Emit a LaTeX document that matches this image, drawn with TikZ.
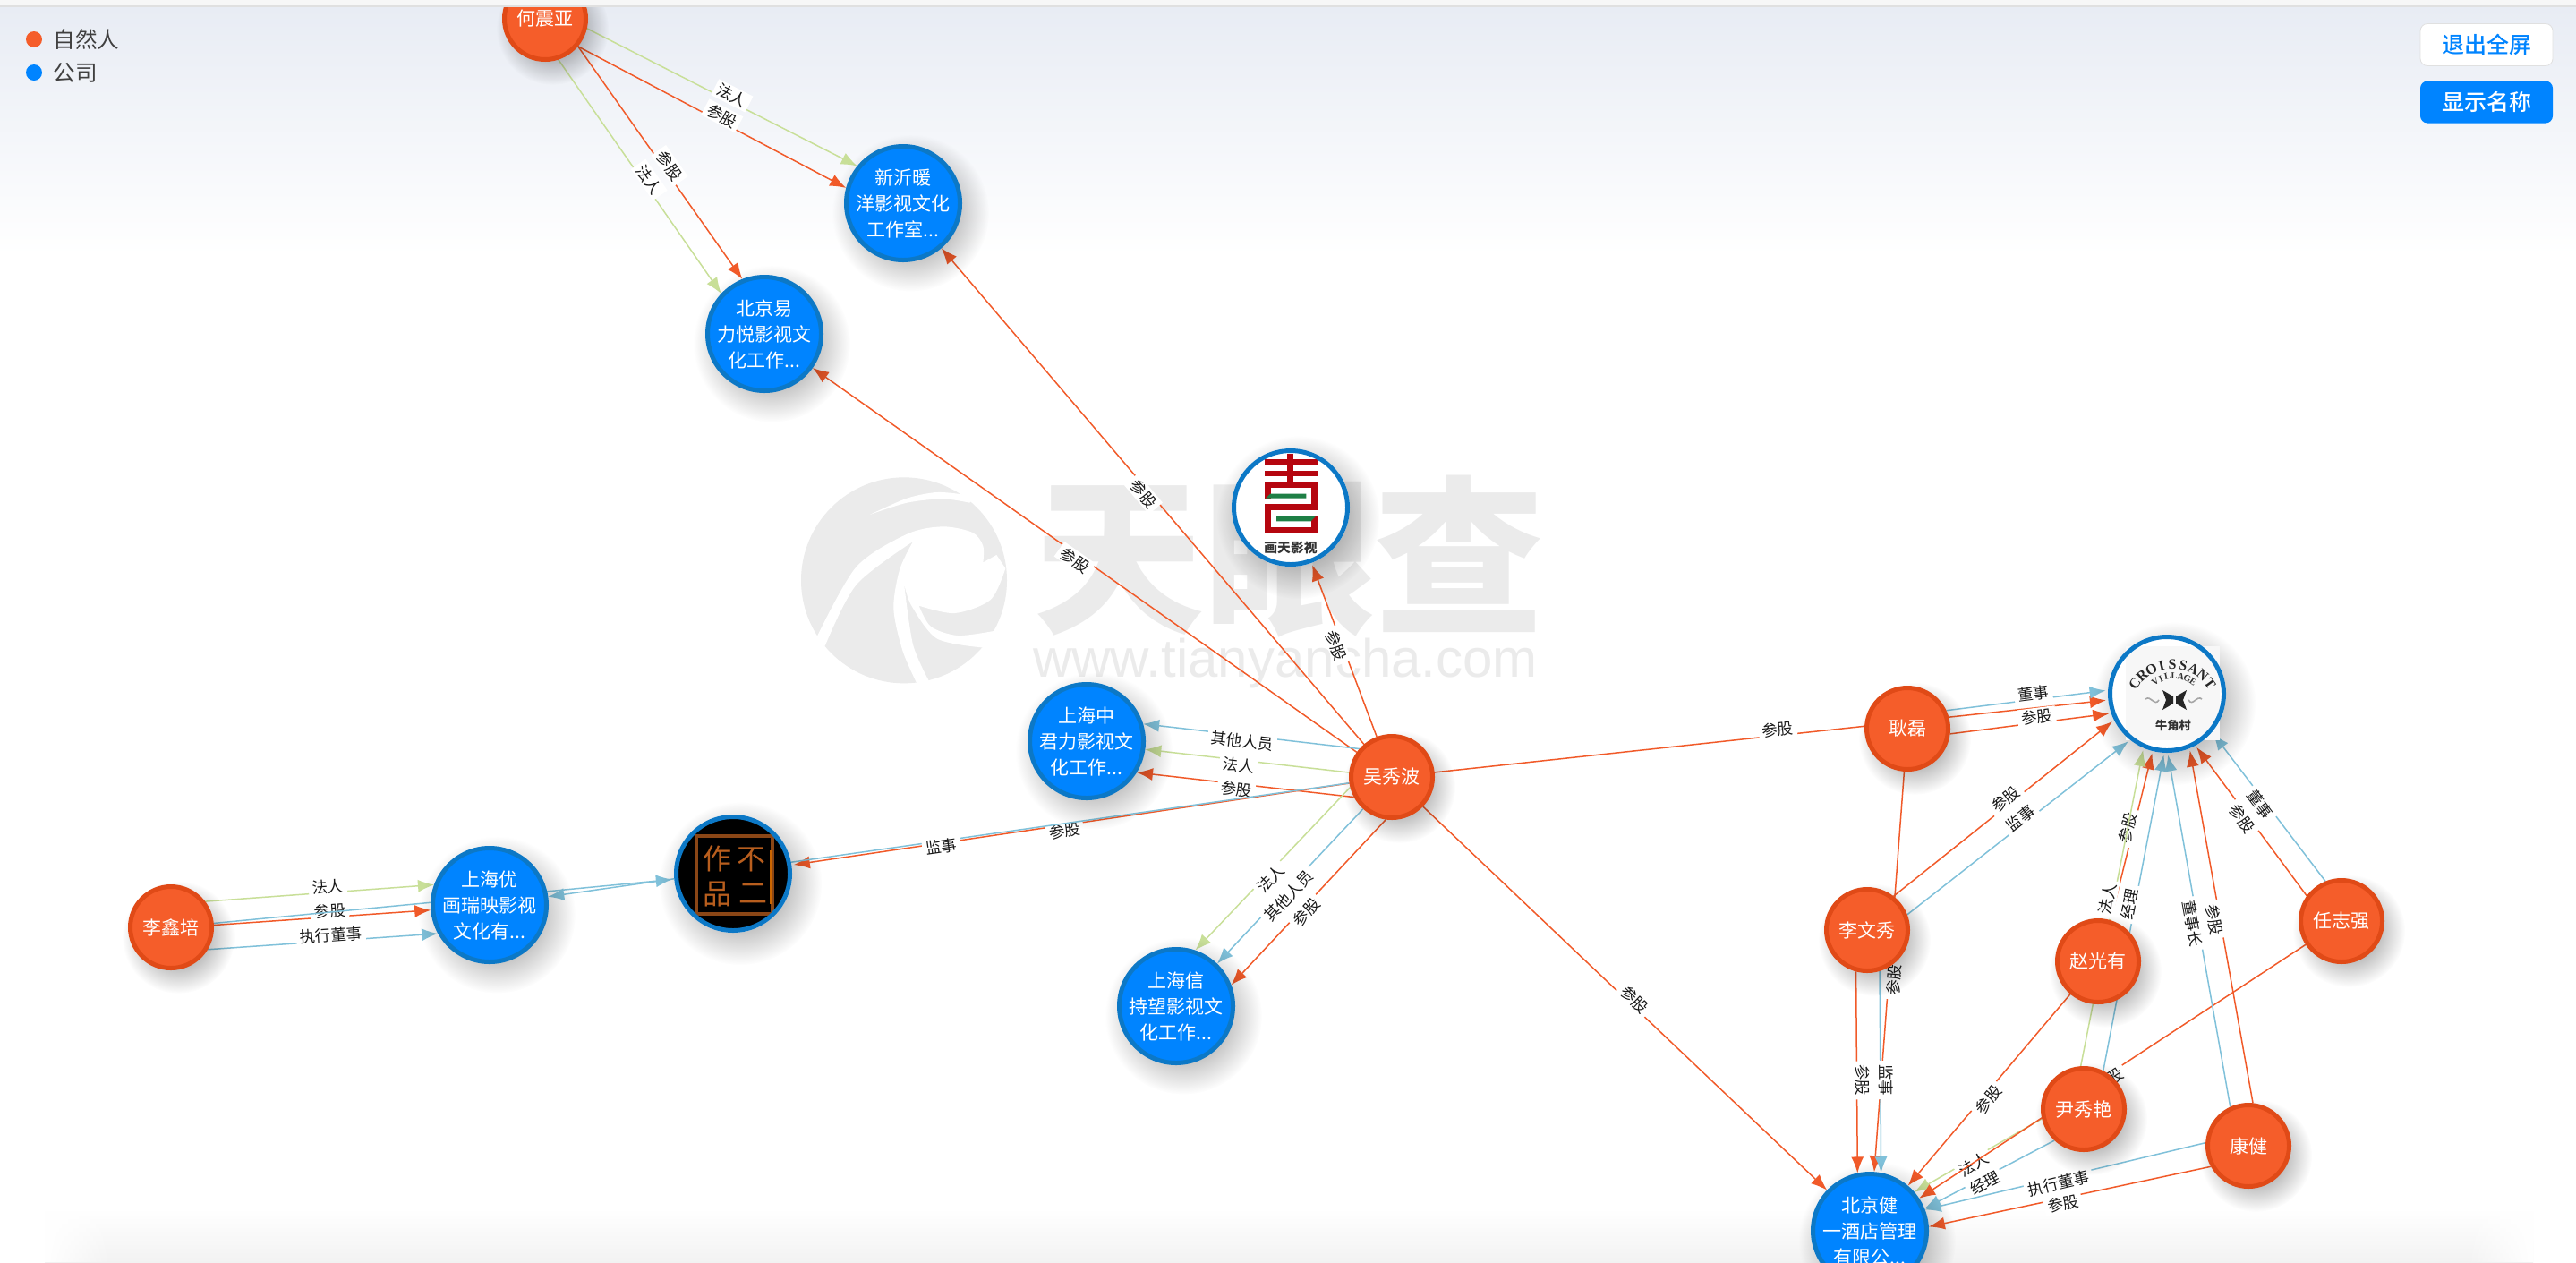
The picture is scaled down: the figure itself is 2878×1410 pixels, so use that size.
\documentclass[tikz,border=0pt]{standalone}
\usepackage{fontspec}
\setmainfont{Noto Sans CJK SC}
\newfontfamily\cjkmedium{Noto Sans CJK SC}[UprightFont=* Medium]
\newfontfamily\latinfont{Liberation Sans}
\newfontfamily\serifbold{Liberation Serif}
\usetikzlibrary{arrows.meta,shadows,fadings}

\definecolor{personfill}{HTML}{F55D2A}
\definecolor{personring}{HTML}{E04A17}
\definecolor{companyfill}{HTML}{0084FF}
\definecolor{companyring}{HTML}{0C78C6}
\definecolor{redline}{HTML}{F15A29}
\definecolor{blueline}{HTML}{80C1DA}
\definecolor{greenline}{HTML}{C8DF98}
\definecolor{marktone}{HTML}{EBEBEB}
\definecolor{bgtop}{HTML}{E8ECF4}
\definecolor{logored}{HTML}{B5060F}
\definecolor{logogreen}{HTML}{1E7F45}
\definecolor{rust}{HTML}{B85E1E}

\pgfdeclarelayer{bg}
\pgfdeclarelayer{edges}
\pgfdeclarelayer{top}
\pgfsetlayers{bg,edges,main,top}

\pgfdeclareradialshading{softshade}{\pgfpointorigin}{color(0bp)=(pgftransparent!0); color(13bp)=(pgftransparent!0); color(25bp)=(pgftransparent!100); color(50bp)=(pgftransparent!100)}
\pgfdeclarefading{softfade}{\pgfuseshading{softshade}}

\tikzset{
  softshadow/.style={circular drop shadow={shadow xshift=3pt,shadow yshift=-4pt,shadow scale=1.38,fill=black,opacity=.26,path fading=softfade}},
  person/.style={circle,draw=personring,fill=personfill,line width=2.5pt,minimum size=45.5pt,inner sep=-5pt,
    text=white,align=center,font=\fontsize{10.5}{14.5}\selectfont,softshadow},
  company/.style={person,draw=companyring,fill=companyfill,minimum size=63.5pt},
  logobase/.style={company,fill=white,draw=none,minimum size=66pt},
  ring/.style={draw=companyring,line width=2.5pt},
  link/.style={line width=.75pt,-{Latex[length=9pt,width=7pt]}},
  redlink/.style={link,draw=redline},
  bluelink/.style={link,draw=blueline},
  greenlink/.style={link,draw=greenline},
  lab/.style={fill=white,inner xsep=2pt,inner ysep=1pt,sloped,anchor=base,text=black!90,
    font=\fontsize{8.7}{9}\selectfont},
  labr/.style={lab,anchor=north,outer ysep=-1.9pt},
}

\begin{document}
\begin{tikzpicture}[x=.5pt,y=-.5pt]
\useasboundingbox (0,0) rectangle (2878,1410);

% Fond et filigrane
\begin{pgfonlayer}{bg}
\fill[white] (0,0) rectangle (2878,1410);
\shade[top color=bgtop,bottom color=white] (0,8) rectangle (2878,285);
\shade[top color=white,bottom color=black!5] (50,1350) rectangle (2830,1410);
\fill[white,path fading=east] (50,1350) rectangle (125,1410);
\fill[white,path fading=west] (2755,1350) rectangle (2830,1410);
\begin{scope}[shift={(880,520)},x=.16667pt,y=-.16667pt]
\fill[marktone] (390,385) circle[radius=57.5pt];
\fill[white] plot[smooth] coordinates {(100,570) (230,340) (400,230) (520,205) (620,225) (655,270) (655,325)}
  -- (700,300) -- (730,345)
  -- plot[smooth] coordinates {(730,345) (680,450) (560,495) (440,470)}
  -- plot[smooth] coordinates {(440,470) (480,540) (570,570) (690,555)}
  -- (700,600) -- (650,610)
  -- plot[smooth] coordinates {(650,610) (500,580) (415,470) (390,395)}
  -- plot[smooth] coordinates {(390,395) (420,600) (475,725)}
  -- (460,750) -- (435,735)
  -- plot[smooth] coordinates {(435,735) (385,620) (355,480) (375,350) (420,255)}
  -- plot[smooth] coordinates {(420,255) (230,400) (125,605)}
  -- (90,600) -- cycle;
\fill[white] plot[smooth] coordinates {(275,165) (400,110) (500,90) (585,97)}
  -- (640,90) -- (610,125)
  -- plot[smooth] coordinates {(610,125) (520,112) (400,125) (275,165)} -- cycle;
\end{scope}
\node[text=marktone,font=\fontsize{95}{95}\selectfont\bfseries] (marktitle) at (1440,622) {天眼查};
\node[text=marktone,font=\latinfont\fontsize{30}{31}\selectfont] (markurl) at (1436,741) {www.tianyancha.com};
\end{pgfonlayer}

% Personnes
\node[person] (hezhenya) at (609,21) {何震亚};
\node[person] (wuxiubo) at (1555,868) {吴秀波};
\node[person] (lixinpei) at (191,1036) {李鑫培};
\node[person] (genglei) at (2131,814) {耿磊};
\node[person] (liwenxiu) at (2086,1039) {李文秀};
\node[person] (zhaoguangyou) at (2344,1074) {赵光有};
\node[person] (renzhiqiang) at (2616,1029) {任志强};
\node[person] (yinxiuyan) at (2328,1239) {尹秀艳};
\node[person] (kangjian) at (2512,1280) {康健};

% Societes
\node[company] (xinyinuan) at (1009,227) {新沂暖\\洋影视文化\\工作室...};
\node[company] (beijingyi) at (854,373) {北京易\\力悦影视文\\化工作...};
\node[company] (shzhong) at (1214,828) {上海中\\君力影视文\\化工作...};
\node[company] (shxin) at (1314,1124) {上海信\\持望影视文\\化工作...};
\node[company] (shyou) at (547,1011) {上海优\\画瑞映影视\\文化有...};
\node[company] (beijingjian) at (2089,1375) {北京健\\一酒店管理\\有限公...};
\node[logobase] (huatian) at (1442,567) {};
\node[logobase] (buer) at (819,976) {};
\node[logobase] (niujiao) at (2421,775) {};

% Logo rouge et vert
\begin{scope}
\clip (huatian.center) circle[radius=32pt];
\begin{scope}[shift={(1370,495)},x=.16667pt,y=-.16667pt]
\foreach \xa/\ya/\xb/\yb in {128/55/305/72,128/92/305/110,205/35/225/130,128/130/305/150,128/130/150/185,
    285/130/305/225,128/205/305/225,128/205/150/300,128/282/305/300,285/245/305/300}
  \fill[logored] (\xa,\ya) rectangle (\xb,\yb);
\fill[logogreen] (132,185) -- (148,170) -- (268,170) -- (268,185) -- cycle;
\fill[logogreen] (168,245) -- (300,245) -- (284,262) -- (168,262) -- cycle;
\end{scope}
\end{scope}
\node[text=black!80,font=\fontsize{7.4}{8}\selectfont\bfseries,inner sep=0pt] (huatianname) at (1442,612) {画天影视};
\draw[ring] (huatian.center) circle[radius=31.75pt];

% Logo noir
\fill[black] (buer.center) circle[radius=32pt];
\draw[rust!75!black,line width=2.2pt] (778,934) rectangle (863,1021);
\draw[orange!80!black,line width=.7pt] (861,950) -- (861,1010);
\node[text=rust,font=\fontsize{16}{17}\selectfont,inner sep=0pt] (buerzuo) at (801,959) {作};
\node[text=rust,font=\fontsize{16}{17}\selectfont,inner sep=0pt] (buerbu) at (839,960) {不};
\node[text=rust,font=\fontsize{16}{17}\selectfont,inner sep=0pt] (buerpin) at (801,999) {品};
\node[text=rust,font=\fontsize{16}{17}\selectfont,inner sep=0pt] (buerer) at (841,998) {二};
\draw[ring] (buer.center) circle[radius=31.75pt];

% Logo blanc
\fill[black!3] (2375,722) rectangle (2480,827);
\foreach \c [count=\i] in {C,R,O,I,S,S,A,N,T}
  \node[rotate={(5-\i)*13.5},text=black!85,inner sep=0pt,font=\serifbold\fontsize{8}{9}\selectfont\bfseries]
    (lettera\i) at ([shift={({90+(5-\i)*13.5}:26pt)}]2427,794) {\c};
\foreach \c [count=\i] in {V,I,L,L,A,G,E}
  \node[rotate={(4-\i)*12},text=black!80,inner sep=0pt,font=\serifbold\fontsize{5.2}{6}\selectfont\bfseries]
    (letterb\i) at ([shift={({90+(4-\i)*12}:18pt)}]2429,791) {\c};
\fill[black!85] (2416,771) -- (2428,778) -- (2428,786) -- (2416,793) -- (2420,782) -- cycle;
\fill[black!85] (2443,771) -- (2431,778) -- (2431,786) -- (2443,793) -- (2439,782) -- cycle;
\draw[black!35,line width=.8pt] (2397,781) .. controls (2403,776) and (2407,790) .. (2412,782);
\draw[black!35,line width=.8pt] (2460,781) .. controls (2454,776) and (2450,790) .. (2445,782);
\node[text=black!80,font=\fontsize{6.6}{7}\selectfont\bfseries,inner sep=0pt] (niujiaoname) at (2428,810) {牛角村};
\draw[ring] (niujiao.center) circle[radius=31.75pt];

% Liens
\begin{pgfonlayer}{edges}
\draw[greenlink] (hezhenya.-13) -- node[lab,pos=.527] (l1) {法人} (xinyinuan.141);
\draw[redlink] (hezhenya.-40) -- node[lab,pos=.527] (l2) {参股} (xinyinuan.165);
\draw[greenlink] (hezhenya.-72) -- node[lab,pos=.528] (l3) {法人} (beijingyi.137);
\draw[redlink] (hezhenya.-40) -- node[lab,pos=.528] (l4) {参股} (beijingyi.112);
\draw[redlink] (wuxiubo) -- node[labr,pos=.512] (l5) {参股} (xinyinuan);
\draw[redlink] (wuxiubo) -- node[labr,pos=.512] (l6) {参股} (beijingyi);
\draw[redlink] (wuxiubo) -- node[labr,pos=.543] (l7) {参股} (huatian);
\draw[bluelink] (wuxiubo.139) -- node[labr,pos=.539] (l8) {其他人员} (shzhong.17);
\draw[greenlink] (wuxiubo.174) -- node[labr,pos=.539] (l9) {法人} (shzhong.-8);
\draw[redlink] (wuxiubo.208) -- node[labr,pos=.539] (l10) {参股} (shzhong.-32);
\draw[greenlink] (wuxiubo.194) -- node[labr,pos=.538] (l11) {法人} (shxin.71);
\draw[bluelink] (wuxiubo.228) -- node[labr,pos=.538] (l12) {其他人员} (shxin.46);
\draw[redlink] (wuxiubo.262) -- node[labr,pos=.538] (l13) {参股} (shxin.21);
\draw[redlink] (wuxiubo) -- node[labr,pos=.514] (l14) {参股} (buer);
\draw[bluelink] (wuxiubo) -- node[labr,pos=.51] (l15) {监事} (shyou);
\draw[redlink] (wuxiubo) -- node[lab,pos=.514] (l16) {参股} (beijingjian);
\draw[redlink] (wuxiubo) -- node[lab,pos=.512] (l17) {参股} (niujiao);
\draw[greenlink] (lixinpei.37) -- node[lab,pos=.537] (l18) {法人} (shyou.160);
\draw[redlink] (lixinpei.3) -- node[lab,pos=.537] (l19) {参股} (shyou.185);
\draw[bluelink] (lixinpei.-31) -- node[lab,pos=.537] (l20) {执行董事} (shyou.209);
\draw[bluelink] (lixinpei) -- (buer);
\draw[bluelink] (genglei.25) -- node[lab,pos=.55] (l21) {董事} (niujiao.177);
\draw[redlink] (genglei.-7) -- node[lab,pos=.55] (l22) {参股} (niujiao.199);
\draw[redlink] (genglei) -- node[labr,pos=.52] (l23) {参股} (beijingjian);
\draw[redlink] (liwenxiu.52) -- node[lab,pos=.529] (l24) {参股} (niujiao.207);
\draw[bluelink] (liwenxiu.21) -- node[lab,pos=.529] (l25) {监事} (niujiao.231);
\draw[redlink] (liwenxiu.255) -- node[lab,pos=.54] (l26) {参股} (beijingjian.102);
\draw[bluelink] (liwenxiu.-73) -- node[lab,pos=.54] (l27) {监事} (beijingjian.79);
\draw[redlink] (zhaoguangyou.73) -- node[lab,pos=.546] (l28) {参股} (niujiao.256);
\draw[redlink] (zhaoguangyou) -- node[labr,pos=.532] (l29) {参股} (beijingjian);
\draw[greenlink] (yinxiuyan.94) -- node[lab,pos=.525] (l30) {法人} (niujiao.247);
\draw[bluelink] (yinxiuyan.63) -- node[lab,pos=.525] (l31) {经理} (niujiao.267);
\draw[greenlink] (yinxiuyan.193) -- node[labr,pos=.556] (l32) {法人} (beijingjian.41);
\draw[bluelink] (yinxiuyan.227) -- node[labr,pos=.556] (l33) {经理} (beijingjian.22);
\draw[redlink] (renzhiqiang) -- node[labr,pos=.517] (l34) {参股} (beijingjian);
\draw[bluelink] (renzhiqiang.112) -- node[labr,pos=.544] (l35) {董事} (niujiao.-41);
\draw[redlink] (renzhiqiang.144) -- node[labr,pos=.544] (l36) {参股} (niujiao.-61);
\draw[bluelink] (kangjian.115) -- node[labr,pos=.523] (l37) {董事长} (niujiao.-89);
\draw[redlink] (kangjian.84) -- node[labr,pos=.523] (l38) {参股} (niujiao.-68);
\draw[bluelink] (kangjian.176) -- node[labr,pos=.528] (l39) {执行董事} (beijingjian.21);
\draw[redlink] (kangjian.209) -- node[labr,pos=.528] (l40) {参股} (beijingjian.4);
\end{pgfonlayer}

% Legende et boutons
\begin{pgfonlayer}{top}
\fill[black!3] (0,0) rectangle (2878,6);
\fill[black!12] (0,6) rectangle (2878,8);
\node[circle,fill=personfill,minimum size=9pt,inner sep=0pt] (legendperson) at (38,44) {};
\node[circle,fill=companyfill,minimum size=9pt,inner sep=0pt] (legendcompany) at (38,81) {};
\node[anchor=west,inner sep=0pt,text=black!75,font=\fontsize{12.3}{13}\selectfont] (legendpersontext) at (59,44) {自然人};
\node[anchor=west,inner sep=0pt,text=black!75,font=\fontsize{12.3}{13}\selectfont] (legendcompanytext) at (59,81) {公司};
\node[rounded corners=4pt,draw=black!12,fill=white,text=companyfill,minimum width=74pt,minimum height=23.5pt,
  inner sep=0pt,font=\cjkmedium\fontsize{12.5}{13}\selectfont] (exitbutton) at (2778,50) {退出全屏};
\node[rounded corners=4pt,fill=companyfill,text=white,minimum width=74pt,minimum height=23.5pt,
  inner sep=0pt,font=\cjkmedium\fontsize{12.5}{13}\selectfont] (namebutton) at (2778,114) {显示名称};
\end{pgfonlayer}

\end{tikzpicture}
\end{document}
